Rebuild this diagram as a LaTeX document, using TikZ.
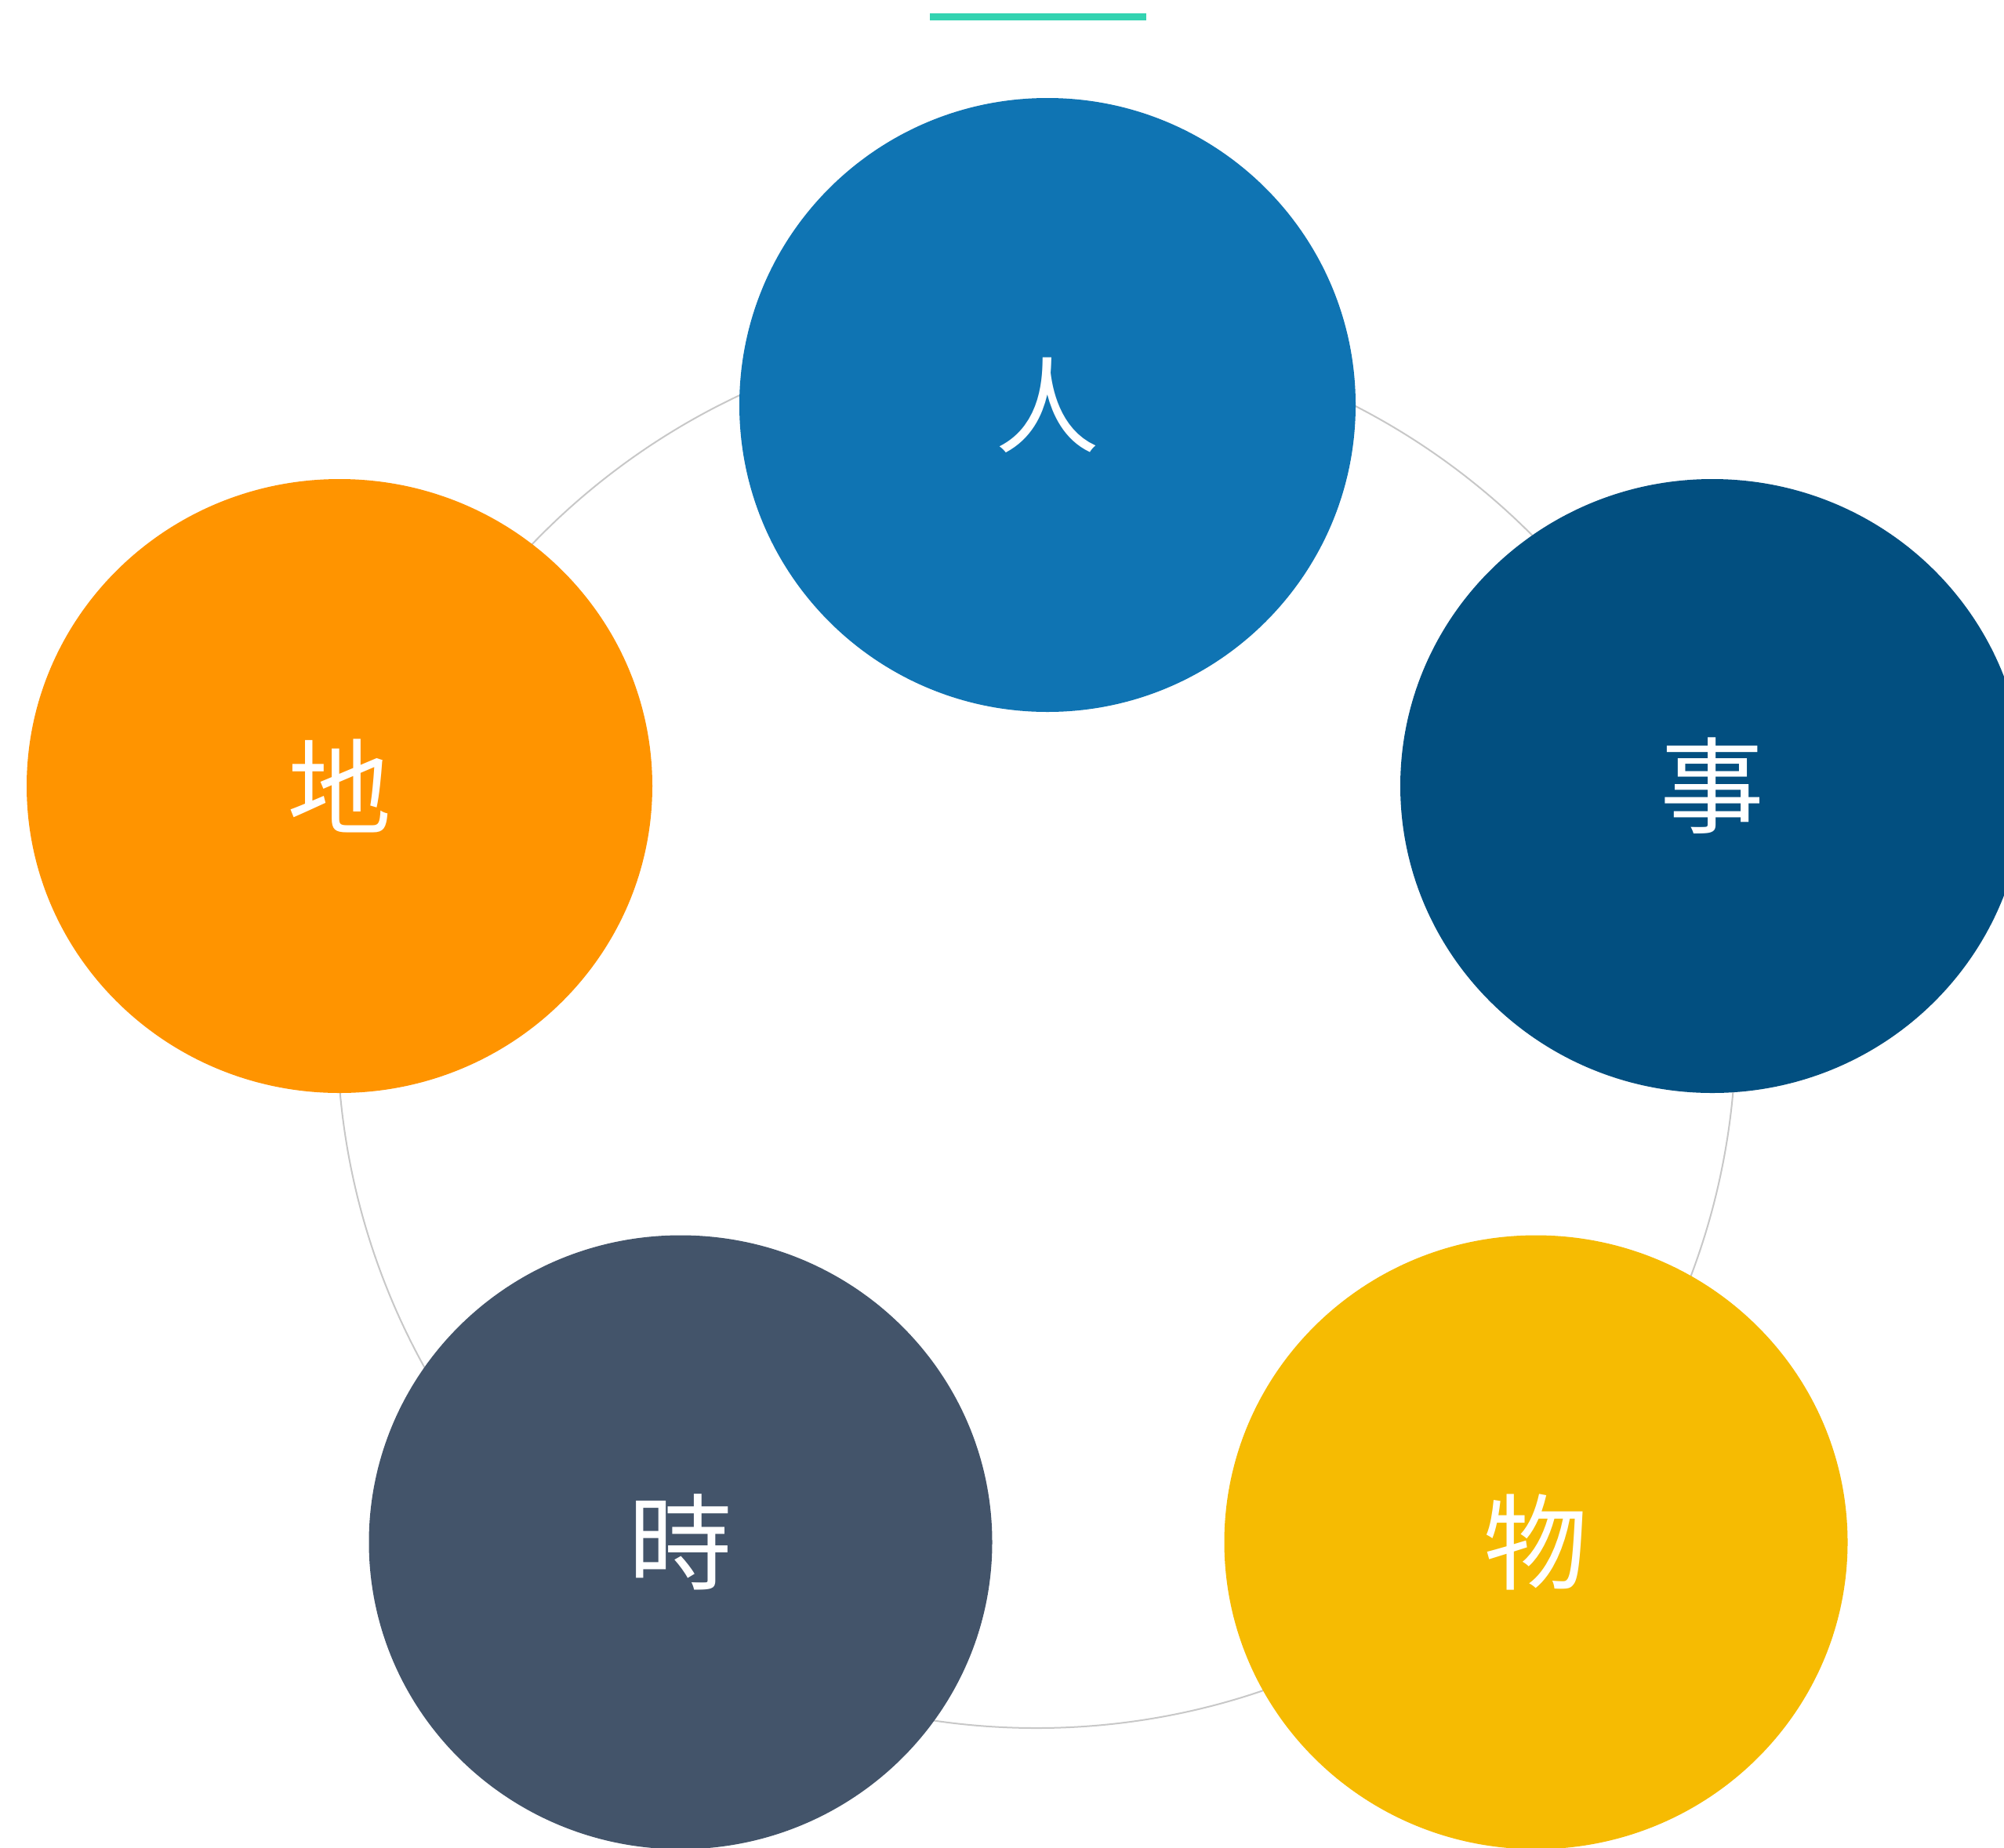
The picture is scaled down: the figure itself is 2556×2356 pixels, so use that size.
\documentclass[tikz,border=0pt]{standalone}
\usepackage{fontspec}
\newfontfamily\cjk{Noto Sans CJK TC}
\usetikzlibrary{shapes.geometric}
\definecolor{cRen}{HTML}{0F74B3}
\definecolor{cShi}{HTML}{024F80}
\definecolor{cDi}{HTML}{FF9400}
\definecolor{cTime}{HTML}{43546A}
\definecolor{cWu}{HTML}{F6BB02}
\definecolor{cBar}{HTML}{33D3B1}
\definecolor{cRing}{HTML}{C8C8C8}
\tikzset{
  blob/.style={ellipse, inner sep=0pt, draw=none, text=white,
    font=\cjk\fontsize{133pt}{133pt}\selectfont},
  ring/.style={draw=cRing, line width=2pt}
}
\begin{document}
\begin{tikzpicture}[x=1pt,y=-1pt]
\useasboundingbox (0,0) rectangle (2556,2356);
\clip (0,0) rectangle (2556,2356);
\fill[white] (0,0) rectangle (2556,2356);
\draw[ring] (1322,1312) circle[radius=892];
\node[blob, fill=cRen, minimum width=786pt, minimum height=783pt] (ren) at (1336,516.5) {人};
\node[blob, fill=cDi, minimum width=798pt, minimum height=783pt] (di) at (433,1002.5) {地};
\node[blob, fill=cShi, minimum width=796pt, minimum height=783pt] (shi) at (2184,1002.5) {事};
\node[blob, fill=cTime, minimum width=795pt, minimum height=783pt] (time) at (868,1967) {時};
\node[blob, fill=cWu, minimum width=795pt, minimum height=783pt] (wu) at (1959,1967) {物};
\fill[cBar] (1186,17) rectangle (1462,26);
\end{tikzpicture}
\end{document}
